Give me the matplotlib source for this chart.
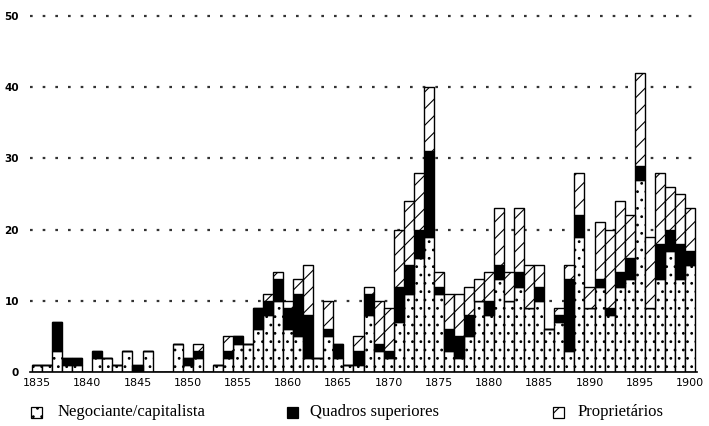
import numpy as np
import matplotlib
matplotlib.use("Agg")
import matplotlib.pyplot as plt
from matplotlib.patches import Rectangle

# anos 1835-1900
anos = np.arange(1835, 1901)

negociante = [1, 1, 3, 1, 1, 0, 2, 2, 1, 3, 0, 3, 0, 0, 4, 1, 2, 0, 1, 2,
              4, 4, 6, 8, 10, 6, 5, 2, 2, 5, 2, 1, 1, 8, 3, 2, 7, 11, 16, 19,
              11, 3, 2, 5, 10, 8, 13, 10, 12, 9, 10, 6, 7, 3, 19, 9, 12, 8, 12, 13,
              27, 9, 13, 17, 13, 15]
quadros = [0, 0, 4, 1, 1, 0, 1, 0, 0, 0, 1, 0, 0, 0, 0, 1, 1, 0, 0, 1,
           1, 0, 3, 2, 3, 3, 6, 6, 0, 1, 2, 0, 2, 3, 1, 1, 5, 4, 4, 12,
           1, 3, 3, 3, 0, 2, 2, 0, 2, 0, 2, 0, 1, 10, 3, 0, 1, 1, 2, 3,
           2, 0, 5, 3, 5, 2]
proprietarios = [0, 0, 0, 0, 0, 0, 0, 0, 0, 0, 0, 0, 0, 0, 0, 0, 1, 0, 0, 2,
                 0, 0, 0, 1, 1, 1, 2, 7, 0, 4, 0, 0, 2, 1, 6, 6, 8, 9, 8, 9,
                 2, 5, 6, 4, 3, 4, 8, 4, 9, 6, 3, 0, 1, 2, 6, 3, 8, 11, 10, 6,
                 13, 10, 10, 6, 7, 6]

rotulos = ["Negociante/capitalista", "Quadros superiores", "Proprietários"]

neg = np.array(negociante)
qua = np.array(quadros)
pro = np.array(proprietarios)

plt.rcParams['hatch.linewidth'] = 0.8

fig = plt.figure(figsize=(7.09, 4.26), dpi=100)
ax = fig.add_axes([30/709, 1-372/426, 667/709, (372-16)/426])

kw = dict(width=1.0, edgecolor='black', linewidth=1.0, zorder=3)
ax.bar(anos, neg, color='white', hatch='..', **kw)
ax.bar(anos, qua, bottom=neg, color='black', **kw)
ax.bar(anos, pro, bottom=neg+qua, color='white', hatch='//', **kw)

ax.set_xlim(1834.3, 1900.7)
ax.set_ylim(0, 50)
for s in ['top', 'right', 'left']:
    ax.spines[s].set_visible(False)
ax.spines['bottom'].set_linewidth(1.2)
ax.spines['bottom'].set_zorder(4)

ax.set_yticks([0, 10, 20, 30, 40, 50])
ax.set_xticks(np.arange(1835, 1901, 5))
ax.tick_params(length=0)
ax.tick_params(axis='y', pad=8, labelsize=7.5)
ax.tick_params(axis='x', pad=4, labelsize=8)
for t in ax.get_yticklabels():
    t.set_fontweight('bold')

for v in [10, 20, 30, 40, 50]:
    ax.axhline(v, color='#333333', linestyle=(0, (1.2, 4.5)), linewidth=1.6,
               zorder=1, clip_on=False)

# legenda
y0 = 1 - 418/426
lado = 11
itens = [(31, 58, dict(facecolor='white', hatch='..')),
         (287, 310, dict(facecolor='black')),
         (553, 578, dict(facecolor='white', hatch='//'))]
for (xq, xt, estilo), nome in zip(itens, rotulos):
    fig.add_artist(Rectangle((xq/709, y0), lado/709, lado/426, transform=fig.transFigure,
                             edgecolor='black', linewidth=0.9, **estilo))
    fig.text(xt/709, y0 + lado/426/2, nome, fontsize=12, family='Liberation Serif',
             va='center', ha='left')

fig.savefig("out.png", dpi=100)
